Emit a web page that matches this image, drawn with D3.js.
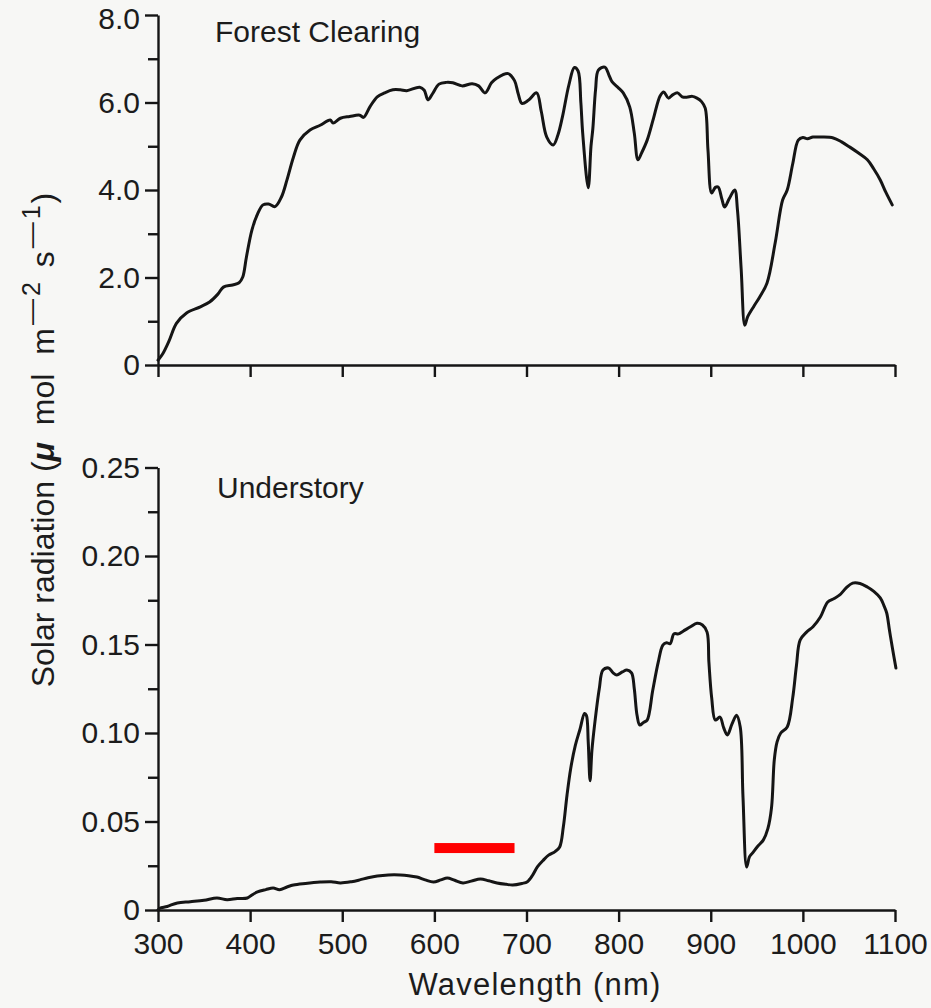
<!DOCTYPE html>
<html>
<head>
<meta charset="utf-8">
<script src="https://cdn.jsdelivr.net/npm/d3@7/dist/d3.min.js"></script>
<style>
  html, body { margin: 0; padding: 0; background: #f7f7f5; }
  svg { display: block; }
  text { font-family: "Liberation Sans", Arial, Helvetica, sans-serif; fill: #1c1c1c; }
</style>
</head>
<body>
<svg id="chart" width="931" height="1008"></svg>
<script>
// Wavelength axis (nm)
const wavelengthTicks = [300, 400, 500, 600, 700, 800, 900, 1000, 1100];

// Forest clearing spectrum: wavelength (nm) and photon flux
const clearingWavelength = [300,305,312,320,331,346,356,365,371,381,388,392,396,402,408,414,420,427,434,440,447,454,465,476,487,490,498,508,519,523,530,538,546,555,563,570,584,589,593,598,605,613,620,630,641,648,655,662,668,680,687,691,695,702,711,716,722,729,734,739,746,752,756,759,761,767,770,772,775,778,785,790,793,800,805,812,817,821,825,831,838,845,849,854,859,864,869,874,880,885,890,894,897,901,905,908,912,915,920,926,929,933,937,940,947,953,961,970,978,983,989,995,1000,1005,1011,1020,1033,1042,1051,1060,1070,1077,1084,1090,1097];
const clearingFlux = [0.11,0.25,0.55,0.95,1.19,1.33,1.44,1.62,1.78,1.83,1.88,2.01,2.47,3.09,3.45,3.66,3.68,3.62,3.84,4.23,4.75,5.14,5.37,5.48,5.60,5.53,5.64,5.68,5.71,5.66,5.90,6.13,6.22,6.29,6.29,6.27,6.35,6.28,6.06,6.20,6.42,6.46,6.45,6.38,6.43,6.38,6.22,6.45,6.56,6.66,6.50,6.20,5.98,6.05,6.22,5.80,5.21,5.03,5.25,5.67,6.40,6.80,6.72,6.00,5.30,4.05,5.00,5.40,6.30,6.74,6.81,6.60,6.47,6.33,6.22,5.90,5.30,4.69,4.85,5.14,5.65,6.15,6.24,6.10,6.18,6.22,6.13,6.12,6.14,6.10,6.02,5.87,4.91,3.93,4.06,4.07,3.80,3.61,3.80,4.00,3.54,2.20,0.91,1.10,1.35,1.55,1.87,2.80,3.77,4.00,4.60,5.14,5.20,5.17,5.21,5.21,5.19,5.10,4.98,4.85,4.69,4.48,4.23,3.95,3.66];
const clearingTicks = [0, 2, 4, 6, 8];
const clearingMinorTicks = [1, 3, 5, 7];

// Understory spectrum: wavelength (nm) and photon flux
const understoryWavelength = [300,302,310,321,335,350,364,375,386,397,402,408,417,425,432,440,447,460,476,488,498,510,519,528,538,550,563,572,581,590,599,607,614,622,631,640,650,659,668,678,685,695,701,707,712,718,724,731,736,740,744,748,753,758,763,765,767,769,771,774,779,783,789,794,798,804,809,814,817,820,823,827,831,837,843,848,852,856,860,865,870,878,885,891,896,898,901,905,910,914,918,923,928,932,935,939,942,945,951,957,962,966,969,972,976,983,989,993,997,1004,1011,1019,1027,1034,1040,1047,1054,1062,1070,1077,1084,1088,1091,1094,1097,1101];
const understoryFlux = [0.000,0.001,0.002,0.004,0.0047,0.0055,0.0068,0.0058,0.0065,0.0068,0.0085,0.0102,0.0115,0.0124,0.0115,0.0130,0.0141,0.0150,0.0158,0.0160,0.0153,0.0160,0.0170,0.0182,0.0192,0.0198,0.0198,0.0194,0.0186,0.0170,0.0158,0.0170,0.0181,0.0168,0.0153,0.0163,0.0175,0.0165,0.0153,0.0145,0.0141,0.0150,0.0160,0.0200,0.0245,0.0280,0.0310,0.0330,0.0356,0.0470,0.0650,0.0800,0.0930,0.1020,0.1110,0.1100,0.0950,0.0730,0.0900,0.1050,0.1250,0.1356,0.1367,0.1340,0.1328,0.1345,0.1356,0.1340,0.1250,0.1100,0.1045,0.1060,0.1073,0.1240,0.1400,0.1497,0.1510,0.1505,0.1560,0.1560,0.1575,0.1600,0.1620,0.1610,0.1570,0.1400,0.1200,0.1073,0.1090,0.1030,0.0989,0.1050,0.1100,0.1034,0.0638,0.0243,0.0300,0.0320,0.0360,0.0395,0.0460,0.0580,0.0850,0.0950,0.1000,0.1034,0.1200,0.1380,0.1525,0.1570,0.1600,0.1655,0.1740,0.1760,0.1780,0.1820,0.1847,0.1845,0.1825,0.1800,0.1763,0.1720,0.1678,0.1580,0.1486,0.1367];
const understoryTicks = [0, 0.05, 0.10, 0.15, 0.20, 0.25];
const understoryMinorTicks = [0.025, 0.075, 0.125, 0.175, 0.225];

// Highlighted wavelength band drawn in red on the understory panel
const markedBand = [600, 687];
const markedLevel = 0.035;

const svg = d3.select("#chart");
const INK = "#151515";

svg.append("rect").attr("width", 931).attr("height", 1008).attr("fill", "#f7f7f5");

const x = d3.scaleLinear().domain([300, 1100]).range([158, 895]);
const yTop = d3.scaleLinear().domain([0, 8]).range([365, 15]);
const yBot = d3.scaleLinear().domain([0, 0.25]).range([910, 467.5]);

function styleAxis(g, width) {
  g.selectAll("path.domain").attr("stroke", INK).attr("stroke-width", width);
  g.selectAll(".tick line").attr("stroke", INK).attr("stroke-width", width);
  g.selectAll(".tick text").attr("fill", "#1c1c1c").style("font-size", "30px")
    .style("font-family", "'Liberation Sans', Arial, Helvetica, sans-serif");
}

// ---- Top panel: forest clearing ----
const topXAxis = svg.append("g").attr("transform", `translate(0,${yTop(0)})`)
  .call(d3.axisBottom(x).tickValues(wavelengthTicks).tickFormat("").tickSize(12).tickSizeOuter(0));
styleAxis(topXAxis, 2.4);

const topYAxis = svg.append("g").attr("transform", `translate(${x(300)},0)`)
  .call(d3.axisLeft(yTop).tickValues(clearingTicks)
    .tickFormat(d => d === 0 ? "0" : d.toFixed(1)).tickSize(13).tickSizeOuter(0).tickPadding(5));
styleAxis(topYAxis, 2.4);
// keep the topmost label inside the page
topYAxis.selectAll(".tick text").filter(d => d === 8).attr("dy", "0.45em");

const topMinor = svg.append("g").attr("transform", `translate(${x(300)},0)`)
  .call(d3.axisLeft(yTop).tickValues(clearingMinorTicks).tickFormat("").tickSize(10));
topMinor.select("path.domain").remove();
styleAxis(topMinor, 2.4);

svg.append("text").attr("x", 215).attr("y", 42).style("font-size", "30px").text("Forest Clearing");

const clearingPoints = clearingWavelength.map((w, i) => [w, clearingFlux[i]]);
svg.append("path")
  .datum(clearingPoints)
  .attr("fill", "none").attr("stroke", INK).attr("stroke-width", 3)
  .attr("stroke-linejoin", "round").attr("stroke-linecap", "round")
  .attr("d", d3.line().x(d => x(d[0])).y(d => yTop(d[1])).curve(d3.curveCatmullRom.alpha(0.5)));

// ---- Bottom panel: understory ----
const botXAxis = svg.append("g").attr("transform", `translate(0,${yBot(0)})`)
  .call(d3.axisBottom(x).tickValues(wavelengthTicks).tickFormat(d3.format("d"))
    .tickSize(12).tickSizeOuter(0).tickPadding(11));
styleAxis(botXAxis, 2.4);

const botYAxis = svg.append("g").attr("transform", `translate(${x(300)},0)`)
  .call(d3.axisLeft(yBot).tickValues(understoryTicks)
    .tickFormat(d => d === 0 ? "0" : d.toFixed(2)).tickSize(13).tickSizeOuter(0).tickPadding(5));
styleAxis(botYAxis, 2.4);

const botMinor = svg.append("g").attr("transform", `translate(${x(300)},0)`)
  .call(d3.axisLeft(yBot).tickValues(understoryMinorTicks).tickFormat("").tickSize(10));
botMinor.select("path.domain").remove();
styleAxis(botMinor, 2.4);

svg.append("text").attr("x", 217).attr("y", 498).style("font-size", "30px").text("Understory");

const understoryPoints = understoryWavelength.map((w, i) => [w, understoryFlux[i]]);
svg.append("path")
  .datum(understoryPoints)
  .attr("fill", "none").attr("stroke", INK).attr("stroke-width", 3)
  .attr("stroke-linejoin", "round").attr("stroke-linecap", "round")
  .attr("d", d3.line().x(d => x(d[0])).y(d => yBot(d[1])).curve(d3.curveCatmullRom.alpha(0.5)));

svg.append("rect")
  .attr("x", x(markedBand[0])).attr("width", x(markedBand[1]) - x(markedBand[0]))
  .attr("y", yBot(markedLevel) - 5).attr("height", 10)
  .attr("fill", "#ff0000");

// ---- Axis titles ----
svg.append("text").attr("x", 535).attr("y", 995).attr("text-anchor", "middle")
  .style("font-size", "31px").style("letter-spacing", "1.2px").text("Wavelength (nm)");

const yTitle = svg.append("text")
  .attr("transform", "translate(54,440) rotate(-90)")
  .attr("text-anchor", "middle")
  .style("font-size", "32px");
yTitle.append("tspan").text("Solar radiation (");
yTitle.append("tspan").style("font-style", "italic").style("font-weight", "bold").text("\u03bc");
yTitle.append("tspan").attr("dx", 8).text(" mol");
yTitle.append("tspan").attr("dx", 10).text(" m");
yTitle.append("tspan").attr("dx", 3).attr("dy", -14).style("font-size", "26px").text("\u2014");
yTitle.append("tspan").attr("dx", 3).style("font-size", "25px").text("2");
yTitle.append("tspan").attr("dx", 6).attr("dy", 14).text(" s");
yTitle.append("tspan").attr("dx", 3).attr("dy", -14).style("font-size", "26px").text("\u2014");
yTitle.append("tspan").attr("dx", 3).style("font-size", "25px").text("1");
yTitle.append("tspan").attr("dx", 2).attr("dy", 14).text(")");
</script>
</body>
</html>
